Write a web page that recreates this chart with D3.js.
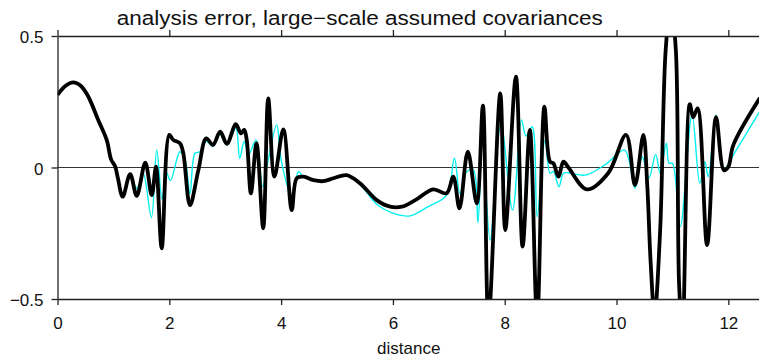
<!DOCTYPE html>
<html>
<head>
<meta charset="utf-8">
<script src="https://cdn.jsdelivr.net/npm/d3@7/dist/d3.min.js"></script>
<style>
  body { margin: 0; background: #fff; }
  svg { display: block; font-family: "Liberation Sans", Arial, sans-serif; }
</style>
</head>
<body>
<svg id="chart" width="759" height="362"></svg>
<script>
// values
var titleText = "analysis error, large\u2212scale assumed covariances";
var xLabel = "distance";
var xTicks = [0, 2, 4, 6, 8, 10, 12];
var yTicks = [-0.5, 0, 0.5];

// thick black curve
var blackX = [0, 0.14, 0.28, 0.42, 0.55, 0.73, 0.88, 0.96, 1.03, 1.08, 1.166, 1.30, 1.417, 1.57, 1.685, 1.762, 1.864,
  2.0, 2.07, 2.19, 2.25, 2.37, 2.52, 2.66, 2.78, 2.91, 3.03, 3.19, 3.28, 3.34, 3.385, 3.46, 3.56, 3.68, 3.77, 3.88,
  4.04, 4.19, 4.28, 4.40, 4.58, 4.75, 4.95, 5.17, 5.41, 5.71, 5.95, 6.16, 6.40, 6.72, 6.96, 7.08, 7.19, 7.34, 7.50,
  7.61, 7.71, 7.92, 8.01, 8.20, 8.32, 8.45, 8.58, 8.71, 8.81, 8.87, 8.96, 9.05, 9.14, 9.47, 9.85, 10.17, 10.33, 10.48,
  10.55, 10.61, 10.68, 10.78, 10.88, 10.97, 11.06, 11.12, 11.18, 11.31, 11.37, 11.45, 11.62, 11.78, 11.92, 12.0, 12.09, 12.566];
var blackY = [0.276, 0.31, 0.324, 0.31, 0.27, 0.18, 0.105, 0.03, 0.005, -0.04, -0.111, -0.025, -0.108, 0.018, -0.105, 0.003, -0.307,
  0.124, 0.105, 0.092, 0.054, -0.143, -0.01, 0.111, 0.086, 0.136, 0.09, 0.165, 0.13, 0.143, 0.105, -0.098, 0.092, -0.231, 0.263, -0.035,
  0.145, -0.162, -0.041, -0.035, -0.048, -0.052, -0.04, -0.029, -0.06, -0.124, -0.149, -0.149, -0.124, -0.083, -0.098, -0.035, -0.155, 0.06, -0.136,
  0.235, -0.58, 0.282, -0.238, 0.345, -0.301, 0.143, -0.58, 0.231, 0.022, 0.016, -0.035, 0.022, 0.0, -0.083, -0.022, 0.124, -0.067, 0.124,
  -0.07, -0.36, -0.56, -0.24, 0.45, 0.62, 0.45, -0.45, -0.62, 0.241, 0.191, 0.225, -0.295, 0.191, -0.01, 0.003, 0.086, 0.265];

// thin cyan curve
var cyanX = [0, 0.28, 0.55, 0.73, 0.88, 0.96, 1.03, 1.166, 1.30, 1.42, 1.53, 1.68, 1.775, 1.87, 1.95, 2.02, 2.19, 2.28, 2.37, 2.46,
  2.55, 2.66, 2.78, 2.91, 3.03, 3.19, 3.26, 3.34, 3.42, 3.55, 3.67, 3.77, 3.92, 4.0, 4.19, 4.31, 4.40, 4.58, 4.75, 4.95, 5.17,
  5.41, 5.71, 5.95, 6.10, 6.31, 6.63, 6.96, 7.10, 7.20, 7.32, 7.44, 7.52, 7.60, 7.74, 7.93, 8.14, 8.30, 8.38, 8.49, 8.58, 8.72,
  8.81, 8.87, 8.97, 9.05, 9.14, 9.44, 9.79, 10.14, 10.22, 10.33, 10.46, 10.58, 10.70, 10.78, 10.89, 10.94, 11.0, 11.14, 11.35,
  11.49, 11.58, 11.64, 11.78, 11.88, 11.92, 12.09, 12.566];
var cyanY = [0.276, 0.324, 0.27, 0.18, 0.105, 0.03, 0.005, -0.105, -0.03, -0.08, -0.02, -0.19, 0.067, -0.12, -0.02, -0.05, 0.06, 0.03, -0.1, 0.054,
  0.06, 0.1, 0.08, 0.125, 0.085, 0.15, 0.035, 0.1, 0.05, 0.105, -0.073, 0.03, 0.162, 0.03, -0.111, -0.016, -0.035, -0.048, -0.052, -0.04, -0.03,
  -0.065, -0.14, -0.17, -0.18, -0.184, -0.149, -0.105, 0.035, -0.1, -0.016, -0.01, -0.21, 0.092, -0.276, 0.168, -0.162, 0.181, 0.12, 0.155, -0.187, 0.105,
  -0.022, -0.015, -0.073, -0.022, -0.02, -0.029, 0.01, 0.067, 0.03, -0.079, 0.041, -0.04, 0.05, -0.022, 0.092, 0.016, 0.016, -0.225, 0.2,
  -0.06, 0.022, -0.035, 0.2, 0.016, -0.01, 0.048, 0.215];

function drawChart() {
  var svg = d3.select("#chart");
  var mLeft = 57.5, mRight = 760, mTop = 36, mBottom = 299;

  var x = d3.scaleLinear().domain([0, 4 * Math.PI]).range([mLeft, mRight]);
  var y = d3.scaleLinear().domain([-0.5, 0.5]).range([mBottom, mTop]);

  svg.append("defs").append("clipPath").attr("id", "plotclip")
    .append("rect").attr("x", mLeft).attr("y", mTop).attr("width", mRight - mLeft).attr("height", mBottom - mTop);

  // zero line
  svg.append("line")
    .attr("x1", mLeft).attr("x2", mRight)
    .attr("y1", y(0)).attr("y2", y(0))
    .style("stroke", "#333").style("stroke-width", 1.2);

  var line = d3.line()
    .x(function(d) { return x(d[0]); })
    .y(function(d) { return y(d[1]); })
    .curve(d3.curveCatmullRom.alpha(0.5));

  var cyanPts = cyanX.map(function(v, i) { return [v, cyanY[i]]; });
  var blackPts = blackX.map(function(v, i) { return [v, blackY[i]]; });

  var plot = svg.append("g").attr("clip-path", "url(#plotclip)");
  plot.append("path").datum(cyanPts).attr("d", line)
    .style("fill", "none").style("stroke", "#00f0f0").style("stroke-width", 1.4);
  plot.append("path").datum(blackPts).attr("d", line)
    .style("fill", "none").style("stroke", "#000").style("stroke-width", 3.8)
    .style("stroke-linejoin", "round");

  // axes
  var fmt = d3.format("~g");

  var gx = svg.append("g").attr("transform", "translate(0," + mBottom + ")")
    .call(d3.axisBottom(x).tickValues(xTicks).tickFormat(fmt).tickSize(6).tickSizeOuter(0).tickPadding(12));

  var gxTop = svg.append("g").attr("transform", "translate(0," + mTop + ")")
    .call(d3.axisTop(x).tickValues(xTicks).tickFormat("").tickSize(6).tickSizeOuter(0));

  var gy = svg.append("g").attr("transform", "translate(" + mLeft + ",0)")
    .call(d3.axisLeft(y).tickValues(yTicks).tickFormat(fmt).tickSize(6).tickSizeOuter(0).tickPadding(8));

  [gx, gxTop, gy].forEach(function(g) {
    g.selectAll("path, line").style("stroke", "#222").style("stroke-width", 1.3);
    g.selectAll("text").style("font-size", "17px").style("fill", "#111")
      .style("font-family", "'Liberation Sans', Arial, sans-serif");
  });
  gy.selectAll("text").attr("dy", "0.4em");

  svg.append("text")
    .attr("x", (mLeft + mRight) / 2).attr("y", 354)
    .attr("text-anchor", "middle")
    .style("font-size", "17px").style("fill", "#111")
    .text(xLabel);

  svg.append("text")
    .attr("x", 116.7).attr("y", 25)
    .attr("textLength", 486).attr("lengthAdjust", "spacingAndGlyphs")
    .style("font-size", "20px").style("fill", "#111")
    .text(titleText);
}

drawChart();
</script>
</body>
</html>
